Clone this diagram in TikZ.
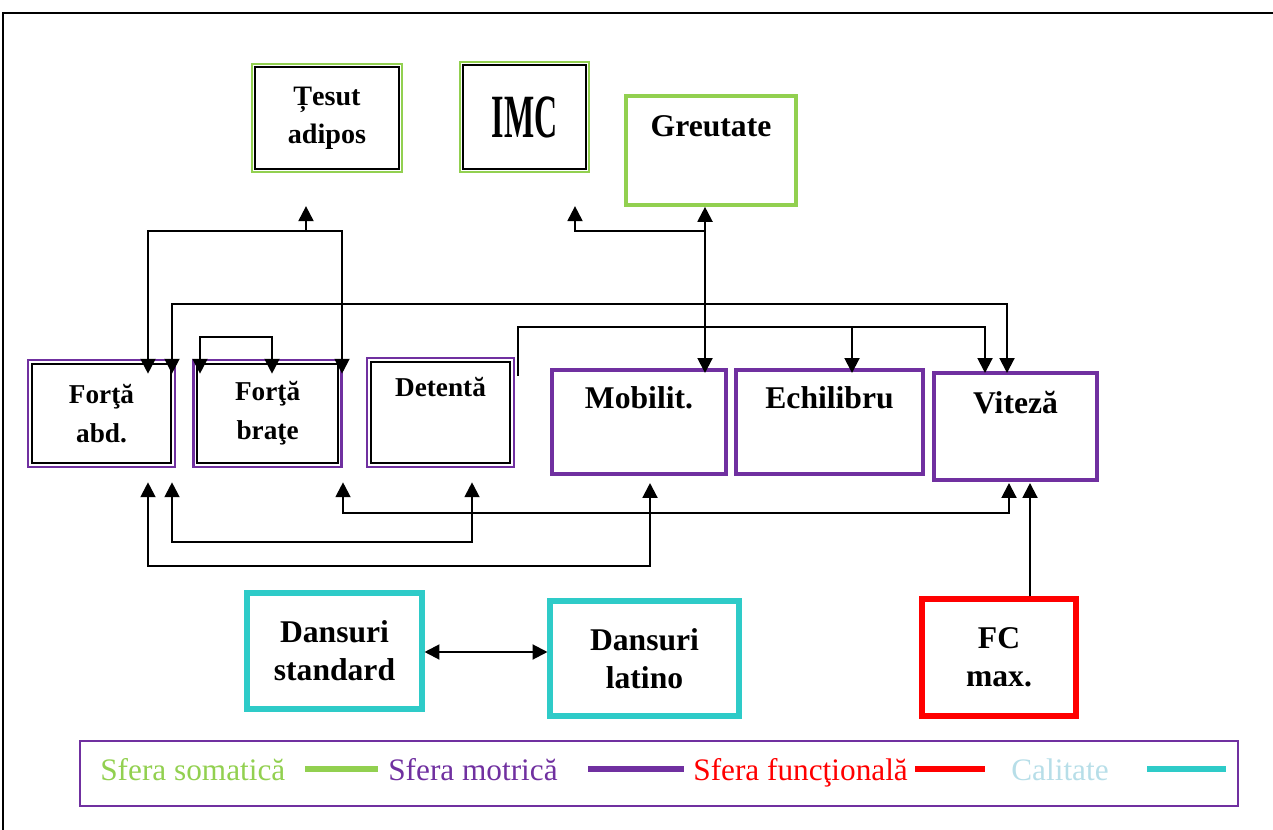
\documentclass[tikz,border=0pt]{standalone}
\usepackage{fontspec}
\setmainfont{Liberation Serif}
\usepackage{graphicx}
\usetikzlibrary{arrows.meta,positioning,calc}
\definecolor{somgreen}{HTML}{92D050}
\definecolor{motpurple}{HTML}{7030A0}
\definecolor{funcred}{HTML}{FF0000}
\definecolor{calcyan}{HTML}{2ECBC8}
\definecolor{callight}{HTML}{B7DEE8}
\tikzset{
  innerframe/.style={
    path picture={\draw[black, line width=1.2pt]
      ([shift={(#1,-#1)}]path picture bounding box.north west) rectangle
      ([shift={(-#1,#1)}]path picture bounding box.south east);}
  },
  somadbl/.style={
    draw=somgreen,
    line width=1.3pt,
    innerframe=1.9pt,
    align=center,
    inner sep=0pt,
    font=\bfseries\fontsize{16}{21.5}\selectfont
  },
  somabox/.style={
    draw=somgreen,
    line width=2.1pt,
    align=center,
    inner sep=0pt,
    font=\bfseries\fontsize{18}{21.5}\selectfont
  },
  motdbl/.style={
    draw=motpurple,
    line width=1.5pt,
    innerframe=2.1pt,
    align=center,
    inner sep=0pt,
    font=\bfseries\fontsize{15.5}{22}\selectfont
  },
  motbox/.style={
    draw=motpurple,
    line width=2.3pt,
    align=center,
    inner sep=0pt,
    font=\bfseries\fontsize{18}{21.5}\selectfont
  },
  calbox/.style={
    draw=calcyan,
    line width=2.9pt,
    align=center,
    inner sep=0pt,
    font=\bfseries\fontsize{18}{21.5}\selectfont
  },
  funcbox/.style={
    draw=funcred,
    line width=2.9pt,
    align=center,
    inner sep=0pt,
    font=\bfseries\fontsize{18}{21.5}\selectfont
  },
  legendbox/.style={draw=motpurple, line width=1.2pt},
  legendtext/.style={anchor=base west, inner sep=0pt, font=\fontsize{17.8}{20}\selectfont},
  swatch/.style={line width=3.6pt},
  arr/.style={-{Triangle[length=8.5pt,width=8.5pt]}, line width=1.2pt},
  biarr/.style={{Triangle[length=8.5pt,width=8.5pt]}-{Triangle[length=8.5pt,width=8.5pt]}, line width=1.2pt}
}

\begin{document}
\begin{tikzpicture}[x=0.02cm, y=-0.02cm]
\useasboundingbox (0,0) rectangle (1273,830);
\draw[line width=1.2pt] (3,830) -- (3,13) -- (1273,13);

% somatic sphere
\node[somadbl, minimum width=3cm, minimum height=2.16cm] (tesut) at (327,118) {Țesut\\adipos};
\node[somadbl, minimum width=2.58cm, minimum height=2.2cm] (imc) at (524.5,117) {\scalebox{0.52}[1]{\fontsize{35}{36}\selectfont IMC}};
\node[somabox, minimum width=3.4cm, minimum height=2.18cm] (greutate) at (711,150.5) {Greutate\\\strut};

% motor sphere
\node[motdbl, minimum width=2.94cm, minimum height=2.14cm] (abd) at (101.5,413.5) {Forţă\\abd.};
\node[motdbl, minimum width=2.96cm, minimum height=2.14cm, right=0.32cm of abd] (brate) {Forţă\\braţe};
\node[motdbl, minimum width=2.94cm, minimum height=2.18cm] (detenta) at (440.5,412.5) {Detentă\\\strut};
\node[motbox, minimum width=3.48cm, minimum height=2.08cm] (mobilit) at (639,422) {Mobilit.\\\strut};
\node[motbox, minimum width=3.74cm, minimum height=2.08cm, right=0.12cm of mobilit] (echilibru) {Echilibru\\\strut};
\node[motbox, minimum width=3.26cm, minimum height=2.14cm] (viteza) at (1015.5,426.5) {Viteză\\\strut};

% quality and functional sphere
\node[calbox, minimum width=3.5cm, minimum height=2.32cm] (dstd) at (334.5,651) {Dansuri\\standard};
\node[calbox, minimum width=3.78cm, minimum height=2.3cm] (dlat) at (644.5,658.5) {Dansuri\\latino};
\node[funcbox, minimum width=3.08cm, minimum height=2.34cm] (fc) at (999,657.5) {FC\\max.};

% upper buses
\draw[biarr] ($(148,0 |- abd.north)+(0,15)$) |- (342,231) -- ($(342,0 |- brate.north)+(0,15)$);
\draw[arr] (306,231) -- ($(306,0 |- tesut.south)+(0,33)$);
\draw[biarr] ($(172,0 |- abd.north)+(0,15)$) |- (1007,304) -- ($(1007,0 |- viteza.north)+(0,2)$);
\draw[biarr] ($(200,0 |- brate.north)+(0,15)$) |- (272,337) -- ($(272,0 |- brate.north)+(0,15)$);
\draw[arr] ($(detenta.north east)+(3,19)$) |- (985,327) -- ($(985,0 |- viteza.north)+(0,2)$);
\draw[arr] (852,327) -- ($(852,0 |- echilibru.north)+(0,5)$);
\draw[biarr] (705,0 |- greutate.south) -- ($(705,0 |- mobilit.north)+(0,5)$);
\draw[arr] (705,231) -| ($(575,0 |- imc.south)+(0,33)$);

% lower buses
\draw[biarr] ($(343,0 |- brate.south)+(0,14)$) |- (1009,513) -- ($(1009,0 |- viteza.south)+(0,1)$);
\draw[biarr] ($(172,0 |- abd.south)+(0,14)$) |- (472,542) -- ($(472,0 |- detenta.south)+(0,14)$);
\draw[biarr] ($(148,0 |- abd.south)+(0,14)$) |- (650,566) -- ($(650,0 |- mobilit.south)+(0,7)$);
\draw[arr] (1030,0 |- fc.north) -- ($(1030,0 |- viteza.south)+(0,1)$);
\draw[biarr] (dstd.east |- 0,652) -- (dlat.west |- 0,652);

% legend
\node[legendbox, minimum width=23.16cm, minimum height=1.3cm] (legend) at (659,773.5) {};
\node[legendtext, text=somgreen] (somtxt) at (100,780) {Sfera somatică};
\node[legendtext, text=motpurple] (mottxt) at (388,780) {Sfera motrică};
\node[legendtext, text=funcred] (functxt) at (693,780) {Sfera funcţională};
\node[legendtext, text=callight] (caltxt) at (1011,780) {Calitate};
\draw[swatch, somgreen] (305,769) -- (378,769);
\draw[swatch, motpurple] (588,769) -- (684,769);
\draw[swatch, funcred] (915,769) -- (985,769);
\draw[swatch, calcyan] (1147,769) -- (1226,769);
\end{tikzpicture}
\end{document}
